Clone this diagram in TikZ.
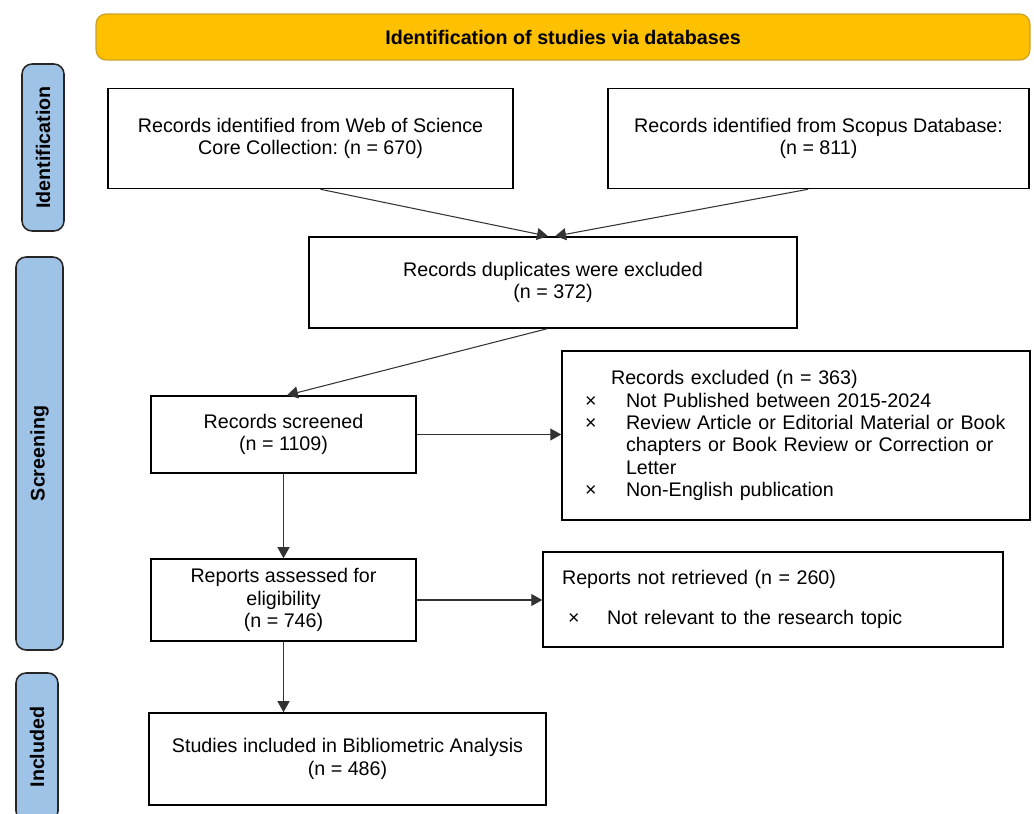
\documentclass[tikz,border=0pt]{standalone}
\usepackage{fontspec}
\setmainfont{Liberation Sans}
\usetikzlibrary{arrows.meta}
\definecolor{bannerfill}{HTML}{FFC000}
\definecolor{bannerline}{HTML}{C9A227}
\definecolor{phasefill}{HTML}{9FC3E7}
\definecolor{arrowgray}{HTML}{333333}
\frenchspacing
\newcommand{\boxfont}{\fontsize{11.2}{12.7}\selectfont}
\newcommand{\xmark}{\makebox[0.82cm][l]{×}}
\begin{document}
\begin{tikzpicture}[
    x=0.02cm, y=-0.02cm,
    banner/.style={draw=bannerline, fill=bannerfill, rounded corners=0.2cm, line width=0.7pt, font=\boxfont\bfseries},
    phase/.style={draw=black!85, fill=phasefill, rounded corners=0.2cm, line width=0.9pt, rotate=90, font=\boxfont\bfseries},
    box/.style={draw, line width=0.9pt, align=center, font=\boxfont},
    listbox/.style={draw, line width=0.9pt, align=left, font=\boxfont},
    arrow/.style={-{Triangle[length=0.22cm, width=0.24cm]}, draw=arrowgray, line width=0.6pt}
]
    \useasboundingbox (0,0) rectangle (1034,814);

    % header and phase labels
    \node[banner, minimum width=18.68cm, minimum height=0.92cm] (head) at (563,37) {Identification of studies via databases};
    \node[phase, minimum width=3.34cm, minimum height=0.84cm] (ident) at (43,147.5) {Identification};
    \node[phase, minimum width=7.86cm, minimum height=0.94cm] (screen) at (39.5,453.5) {Screening};
    \begin{scope}
        \clip (0,0) rectangle (1034,814);
        \node[phase, minimum width=2.96cm, minimum height=0.84cm] (incl) at (37,747) {Included};
    \end{scope}

    % boxes
    \node[box, minimum width=8.10cm, minimum height=2.0cm] (wos) at (310.5,138.5) {Records identified from Web of Science\\Core Collection: (n = 670)};
    \node[box, minimum width=8.42cm, minimum height=2.0cm] (scopus) at (818.5,138.5) {Records identified from Scopus Database:\\(n = 811)};
    \node[box, minimum width=9.76cm, minimum height=1.82cm] (dup) at (553,282.5) {Records duplicates were excluded\\(n = 372)};
    \node[box, minimum width=5.30cm, minimum height=1.54cm] (screened) at (283.5,434.5) {Records screened\\(n = 1109)};
    \node[listbox, text width=8.44cm, minimum width=9.36cm, minimum height=3.38cm] (excluded) at (796,435.5) {\hspace*{0.52cm}Records excluded (n = 363)\\
        \xmark Not Published between 2015-2024\\
        \xmark Review Article or Editorial Material or Book\\
        \hspace*{0.82cm}chapters or Book Review or Correction or\\
        \hspace*{0.82cm}Letter\\
        \xmark Non-English publication};
    \node[box, minimum width=5.30cm, minimum height=1.64cm] (assessed) at (283.5,600) {Reports assessed for\\eligibility\\(n = 746)};
    \node[listbox, text width=8.44cm, minimum width=9.2cm, minimum height=1.9cm] (notret) at (773,599.5) {Reports not retrieved (n = 260)\\[0.36cm]
        \hspace*{0.12cm}\makebox[0.78cm][l]{×}Not relevant to the research topic};
    \node[box, minimum width=7.94cm, minimum height=1.84cm] (studies) at (347.5,759) {Studies included in Bibliometric Analysis\\(n = 486)};

    % connectors
    \draw[arrow] ([xshift=0.2cm]wos.south) -- ([xshift=-0.1cm]dup.north);
    \draw[arrow] ([xshift=-0.21cm]scopus.south) -- ([xshift=0.04cm]dup.north);
    \draw[arrow] ([xshift=-0.12cm]dup.south) -- ([xshift=0.07cm]screened.north);
    \draw[arrow] (screened.east) -- (screened.east -| excluded.west);
    \draw[arrow] (screened.south) -- (assessed.north);
    \draw[arrow] (assessed.east) -- (assessed.east -| notret.west);
    \draw[arrow] (assessed.south) -- (assessed.south |- studies.north);
\end{tikzpicture}
\end{document}
